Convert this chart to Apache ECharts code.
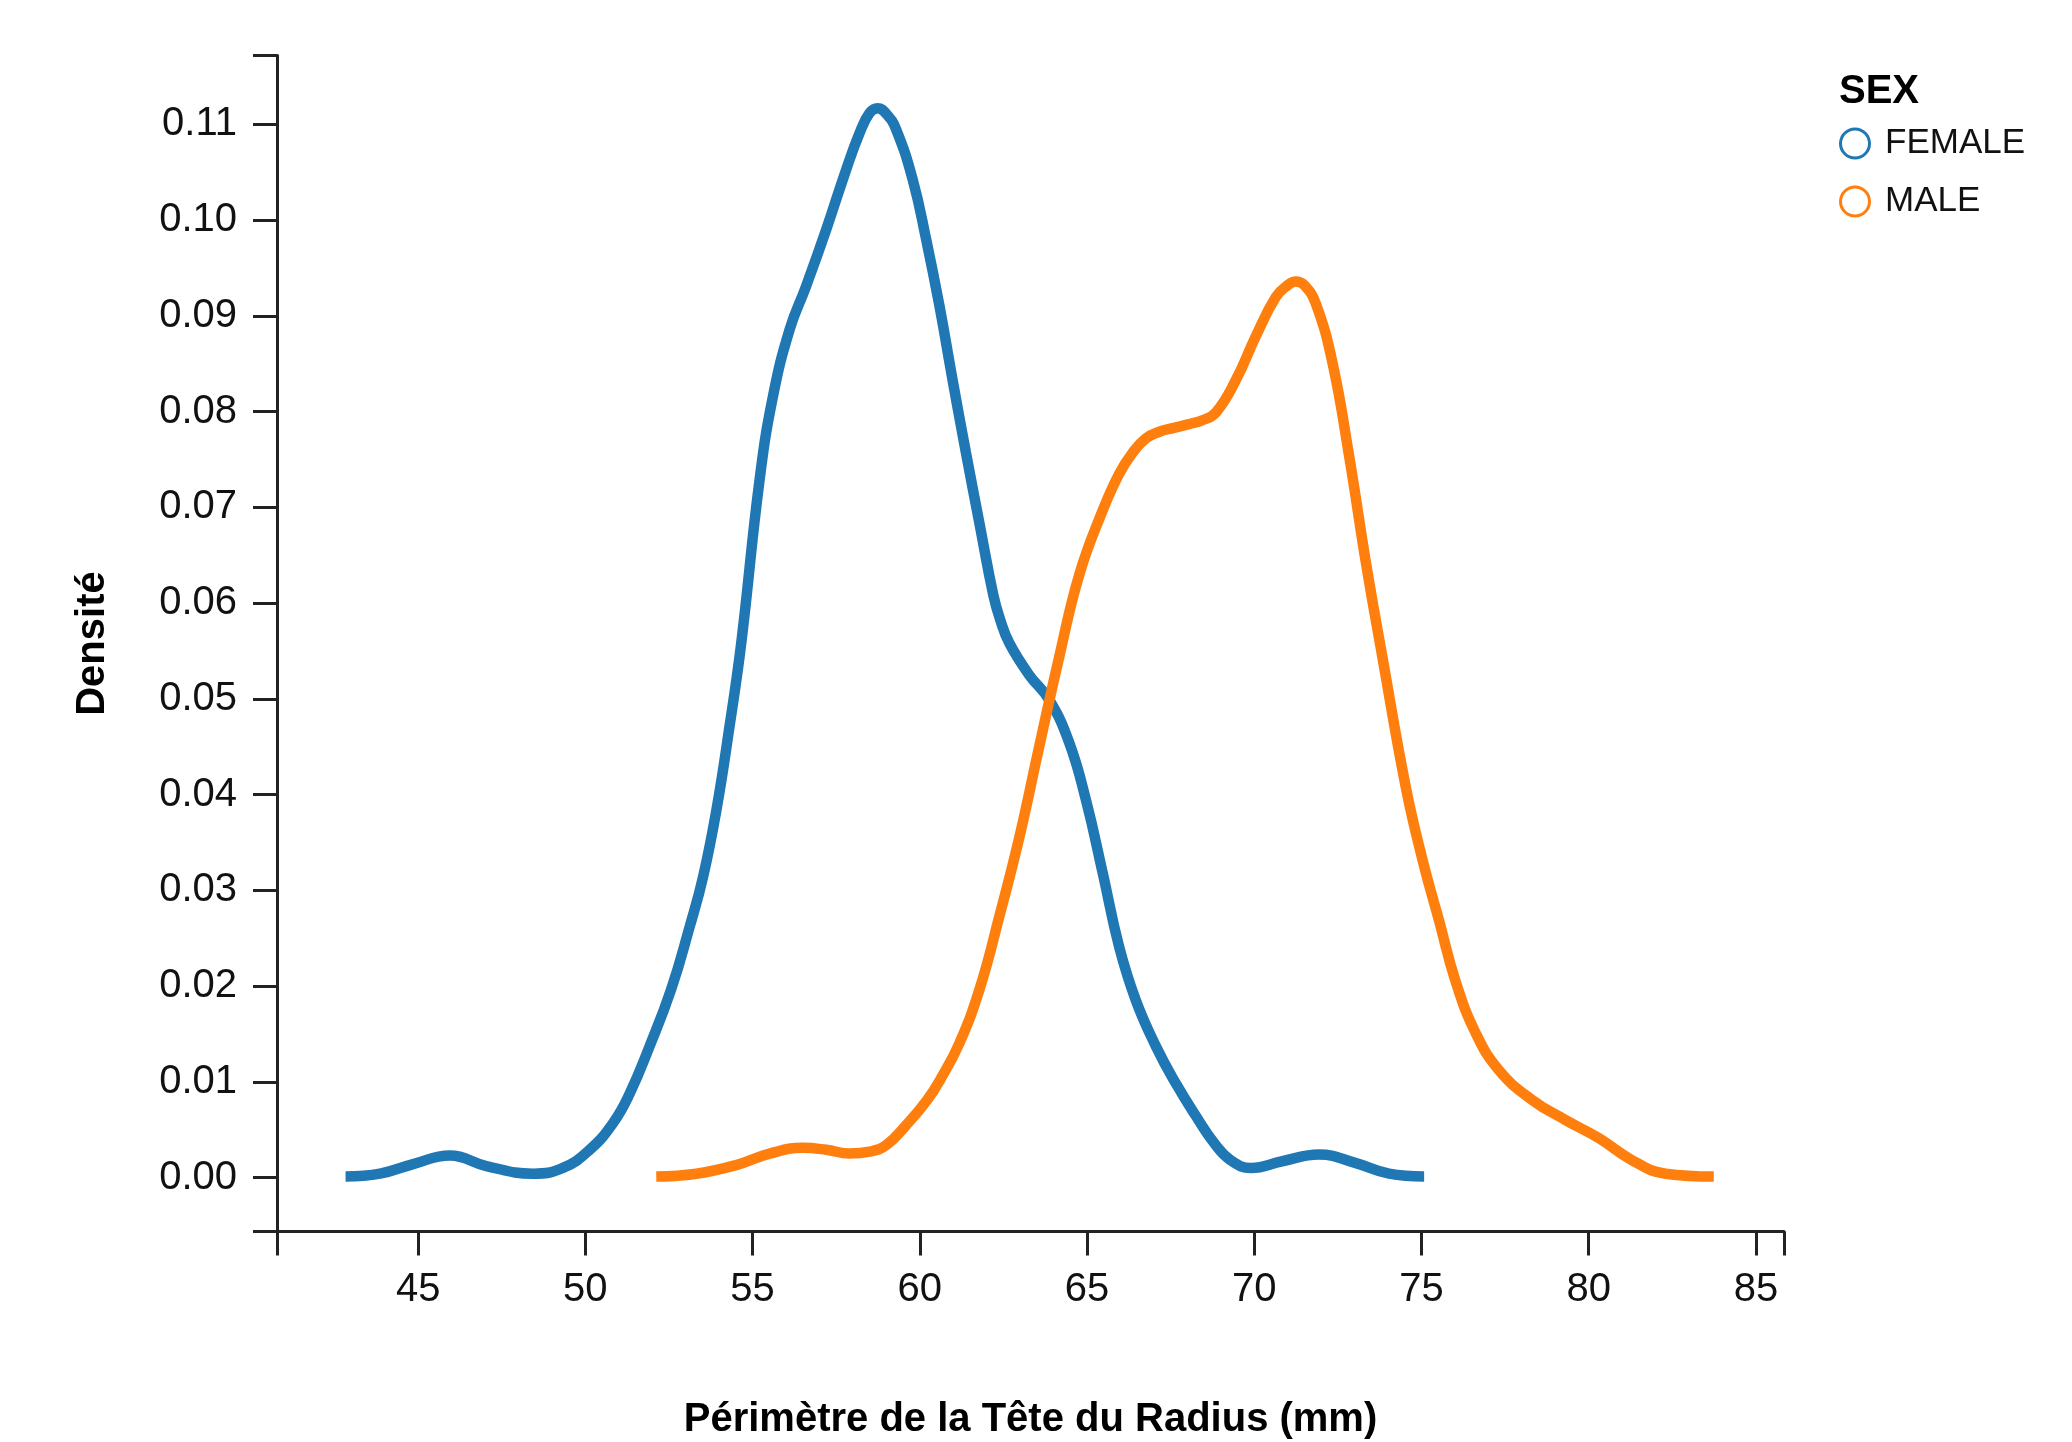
<!DOCTYPE html>
<html>
<head>
<meta charset="utf-8">
<script src="https://cdn.jsdelivr.net/npm/echarts@6/dist/echarts.min.js"></script>
<style>
html,body{margin:0;padding:0;background:#fff;}
#chart{width:2072px;height:1442px;}
</style>
</head>
<body>
<div id="chart"></div>
<script>
// Series names (legend categories)
const seriesNames = ['FEMALE', 'MALE'];
const legendTitle = 'SEX';
const xTitle = 'Périmètre de la Tête du Radius (mm)';
const yTitle = 'Densité';

// Axis domains (padded extent of the data, as in the reference)
const xDomain = [40.78, 85.84];
const yDomain = [-0.00565, 0.1172];

// Tick labels
const xTickValues = [45, 50, 55, 60, 65, 70, 75, 80, 85];
const yTickValues = [0, 0.01, 0.02, 0.03, 0.04, 0.05, 0.06, 0.07, 0.08, 0.09, 0.10, 0.11];

// Density curve for FEMALE: [x, density]
const femaleData = [
  [42.83, 0.0001], [43.86, 0.0004], [44.85, 0.0014], [45.95, 0.0023],
  [47.04, 0.0012], [48.44, 0.0004], [49.33, 0.0010], [50.13, 0.0029],
  [50.83, 0.0057], [51.33, 0.0088], [51.92, 0.0137], [52.57, 0.0197],
  [53.12, 0.0262], [53.52, 0.0314], [53.92, 0.0384], [54.31, 0.0471],
  [54.66, 0.0558], [55.21, 0.0729], [55.61, 0.0816], [56.11, 0.0886],
  [56.60, 0.0931], [57.20, 0.0990], [57.80, 0.1053], [58.20, 0.1091],
  [58.50, 0.1112], [58.74, 0.1117], [59.00, 0.1111], [59.29, 0.1095],
  [59.79, 0.1042], [60.19, 0.0980],
  [60.59, 0.0910], [60.98, 0.0833], [61.38, 0.0757], [61.78, 0.0684],
  [62.20, 0.0608], [62.40, 0.0583], [62.68, 0.0558], [63.27, 0.0525],
  [63.87, 0.0499], [64.47, 0.0454], [64.97, 0.0394], [65.47, 0.0318],
  [65.96, 0.0241], [66.46, 0.0185], [67.06, 0.0137], [67.66, 0.0098],
  [68.26, 0.0064], [68.80, 0.0036], [69.30, 0.0018], [69.90, 0.0010],
  [70.84, 0.0017], [71.94, 0.0024], [73.04, 0.0015], [74.03, 0.0004],
  [75.08, 0.0001]
];

// Density curve for MALE: [x, density]
const maleData = [
  [52.12, 0.0001], [53.32, 0.0004], [54.51, 0.0013], [55.51, 0.0025],
  [56.50, 0.0031], [57.20, 0.0029], [57.90, 0.0025], [58.50, 0.0027],
  [59.00, 0.0034], [59.60, 0.0055], [60.20, 0.0080], [60.64, 0.0104],
  [61.18, 0.0140], [61.78, 0.0196], [62.38, 0.0273], [62.98, 0.0356],
  [63.57, 0.0450], [64.17, 0.0544], [64.77, 0.0630], [65.47, 0.0697],
  [65.96, 0.0735], [66.36, 0.0757], [66.76, 0.0772], [67.16, 0.0779],
  [67.60, 0.0783], [68.05, 0.0787], [68.45, 0.0791], [68.85, 0.0799],
  [69.45, 0.0833], [70.05, 0.0879], [70.65, 0.0920], [71.00, 0.0932],
  [71.24, 0.0936], [71.50, 0.0932],
  [71.84, 0.0913], [72.34, 0.0851], [72.84, 0.0753], [73.34, 0.0642],
  [73.83, 0.0544], [74.53, 0.0408], [75.03, 0.0332], [75.52, 0.0269],
  [76.02, 0.0205], [76.62, 0.0151], [77.32, 0.0112], [78.31, 0.0081],
  [79.31, 0.0060], [80.31, 0.0041], [81.30, 0.0018], [82.30, 0.0004],
  [83.74, 0.0001]
];

const colors = ['#1f77b4', '#ff7f0e'];
const FONT = 'Liberation Sans, Arial, Helvetica, sans-serif';
const AXIS_COLOR = '#222';

const chart = echarts.init(document.getElementById('chart'), null, {renderer: 'canvas'});

const axisCommon = {
  type: 'value',
  splitLine: {show: false},
  axisLine: {show: true, onZero: false, lineStyle: {color: AXIS_COLOR, width: 3}},
  nameLocation: 'middle',
  nameTextStyle: {color: '#000', fontSize: 40, fontWeight: 'bold', fontFamily: FONT}
};
const tickStyle = {color: AXIS_COLOR, width: 3};
const labelStyle = {color: '#111', fontSize: 40, fontFamily: FONT};

const option = {
  backgroundColor: '#fff',
  animation: false,
  color: colors,
  title: {
    text: legendTitle,
    left: 1839, top: 72, padding: 0,
    textStyle: {color: '#000', fontSize: 40, fontWeight: 'bold', fontFamily: FONT}
  },
  legend: {
    orient: 'vertical',
    left: 1839, top: 126, padding: 0,
    itemWidth: 50, itemHeight: 29, itemGap: 23,
    icon: 'circle',
    selectedMode: false,
    textStyle: {color: '#111', fontSize: 35, fontFamily: FONT},
    data: seriesNames.map((n, i) => ({
      name: n,
      itemStyle: {color: '#fff', borderColor: colors[i], borderWidth: 3}
    }))
  },
  grid: {
    left: 277, right: 288, top: 55.5, bottom: 210.4,
    containLabel: false, outerBoundsMode: 'none'
  },
  xAxis: Object.assign({}, axisCommon, {
    min: xDomain[0], max: xDomain[1],
    name: xTitle, nameGap: 168,
    axisTick: {show: true, length: 24, lineStyle: tickStyle,
      customValues: [xDomain[0]].concat(xTickValues, [xDomain[1]])},
    axisLabel: Object.assign({}, labelStyle, {margin: 38, customValues: xTickValues})
  }),
  yAxis: Object.assign({}, axisCommon, {
    min: yDomain[0], max: yDomain[1],
    name: yTitle, nameGap: 164, nameRotate: 90,
    axisTick: {show: true, length: 24, lineStyle: tickStyle,
      customValues: [yDomain[0]].concat(yTickValues, [yDomain[1]])},
    axisLabel: Object.assign({}, labelStyle, {
      margin: 40, customValues: yTickValues,
      formatter: v => v.toFixed(2)
    })
  }),
  series: [
    {
      name: seriesNames[0], type: 'line', data: femaleData,
      smooth: 0.45, showSymbol: false, symbol: 'none',
      lineStyle: {color: colors[0], width: 10.5}, itemStyle: {color: colors[0]}
    },
    {
      name: seriesNames[1], type: 'line', data: maleData,
      smooth: 0.45, showSymbol: false, symbol: 'none',
      lineStyle: {color: colors[1], width: 10.5}, itemStyle: {color: colors[1]}
    }
  ]
};

chart.setOption(option);
</script>
</body>
</html>
